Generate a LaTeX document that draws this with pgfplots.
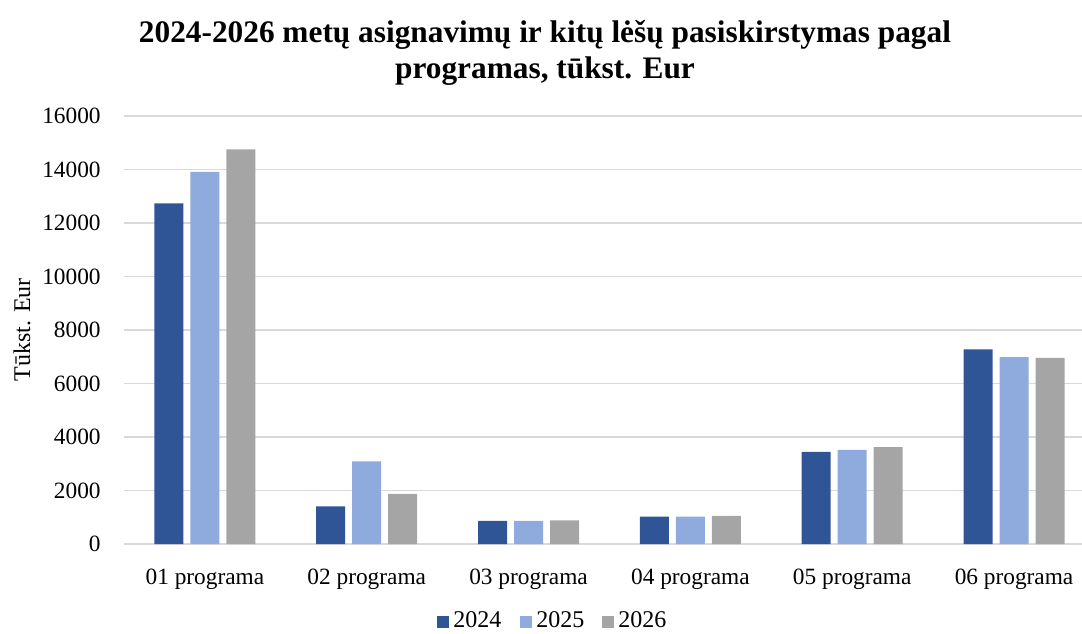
\documentclass[border=0pt]{standalone}
\usepackage{pgfplots}
\pgfplotsset{compat=1.18}
\usepackage{fontspec}
\setmainfont{Liberation Serif}
\definecolor{c24}{HTML}{2F5597}
\definecolor{c25}{HTML}{8FAADC}
\definecolor{c26}{HTML}{A5A5A5}
\definecolor{gridc}{HTML}{D9D9D9}
\begin{document}
\begin{tikzpicture}[x=0.75pt,y=0.75pt]
\begin{axis}[
  at={(0,0)}, anchor=south west,
  scale only axis,
  width=718.5pt, height=321pt,
  ymin=0, ymax=16000,
  xmin=-0.5, xmax=5.42,
  ytick={0,2000,...,16000},
  xtick={0,1,2,3,4,5},
  xticklabels={01 programa,02 programa,03 programa,04 programa,05 programa,06 programa},
  scaled y ticks=false,
  /pgf/number format/assume math mode=true,
  yticklabel={\pgfmathprintnumber[fixed,1000 sep={}]{\tick}},
  ticklabel style={font=\fontsize{17.5}{20}\selectfont},
  xticklabel style={yshift=-15pt},
  yticklabel style={xshift=-14pt},
  major tick length=0pt,
  ymajorgrids,
  grid style={gridc, line width=1.3pt},
  axis line style={draw=none},
  axis x line*=bottom,
  axis y line*=left,
  ybar=5.25pt,
  bar width=21.75pt,
  clip=false,
]
\draw[gridc, line width=1.3pt] (axis cs:-0.5,0) -- (axis cs:5.42,0);
\addplot[fill=c24, draw=none] coordinates {(0,12730) (1,1405) (2,865) (3,1020) (4,3440) (5,7275)};
\addplot[fill=c25, draw=none] coordinates {(0,13910) (1,3090) (2,868) (3,1020) (4,3515) (5,6985)};
\addplot[fill=c26, draw=none] coordinates {(0,14750) (1,1870) (2,880) (3,1055) (4,3625) (5,6955)};
\end{axis}
% y label
\node[rotate=90, font=\fontsize{18}{21}\selectfont] at (-102,214) {Tūkst. Eur};
% title
\node[align=center, font=\bfseries\fontsize{23.5}{27}\selectfont] at (421,491) {2024-2026 metų asignavimų ir kitų lėšų pasiskirstymas pagal\\programas, tūkst. Eur};
% legend
\begin{scope}[font=\fontsize{18}{21}\selectfont]
\node[anchor=west, inner sep=0pt] at (313,-76) {\textcolor{c24}{\rule{9pt}{9pt}}\hspace{3pt}2024};
\node[anchor=west, inner sep=0pt] at (396,-76) {\textcolor{c25}{\rule{9pt}{9pt}}\hspace{3pt}2025};
\node[anchor=west, inner sep=0pt] at (478,-76) {\textcolor{c26}{\rule{9pt}{9pt}}\hspace{3pt}2026};
\end{scope}
\pgfresetboundingbox
\path[use as bounding box] (-124,-89) rectangle (958,544);
\end{tikzpicture}
\end{document}
